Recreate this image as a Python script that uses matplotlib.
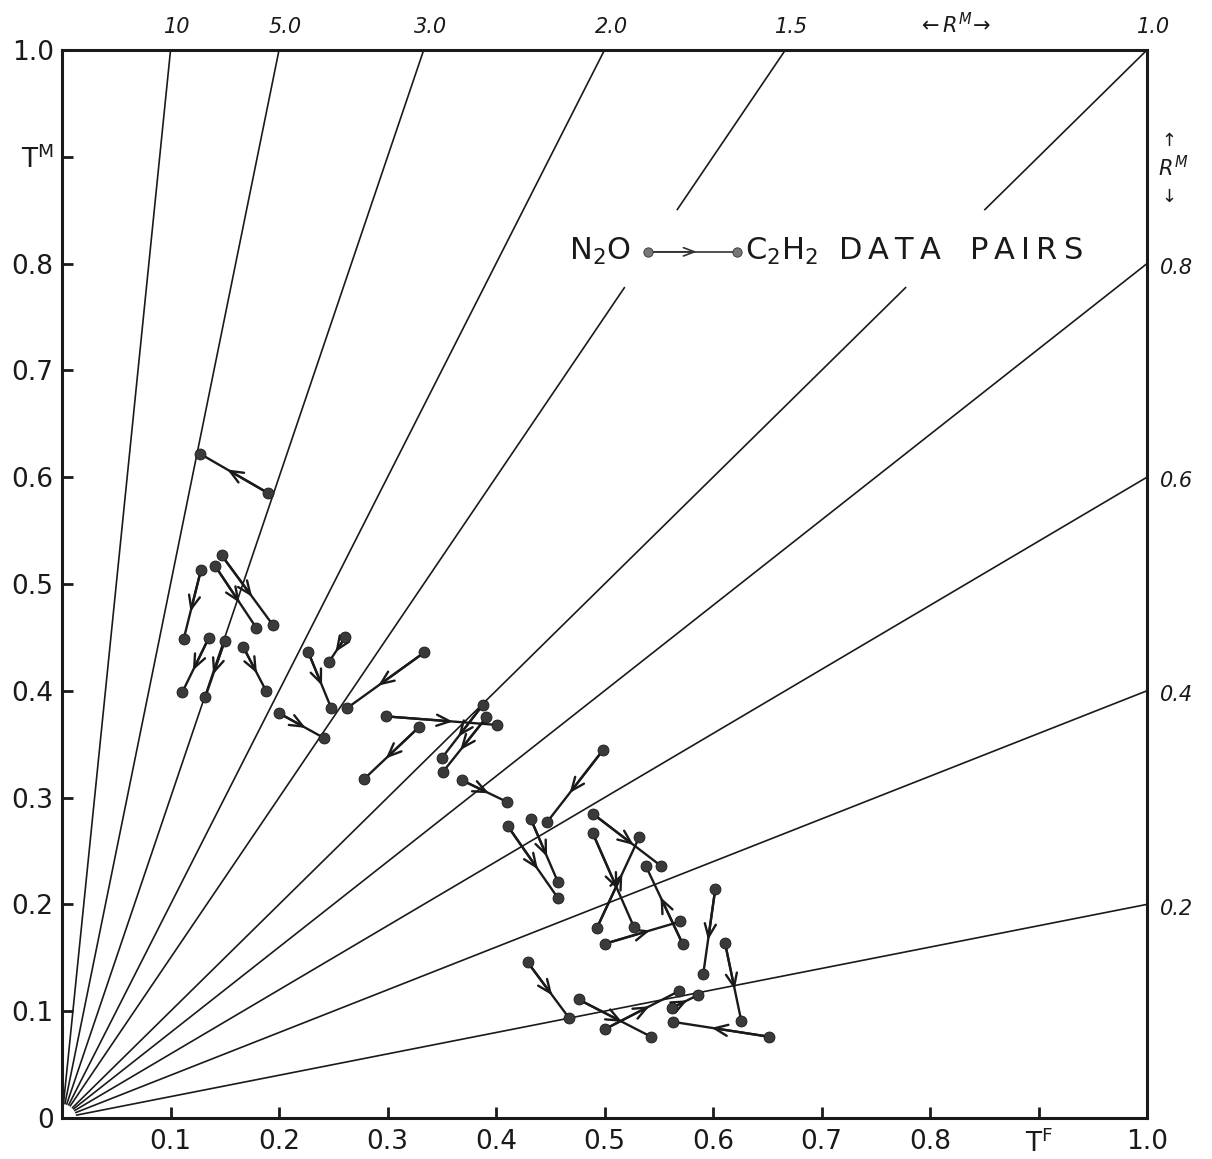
import numpy as np
import matplotlib
matplotlib.use("Agg")
import matplotlib.pyplot as plt

# Constant-ratio rays R^M = T^M / T^F
ratios_top = [10.0, 5.0, 3.0, 2.0, 1.5, 1.0]
top_labels = ["10", "5.0", "3.0", "2.0", "1.5", "1.0"]
ratios_side = [0.8, 0.6, 0.4, 0.2]
side_labels = ["0.8", "0.6", "0.4", "0.2"]

# Axis tick labels
x_ticks = [0.1, 0.2, 0.3, 0.4, 0.5, 0.6, 0.7, 0.8, 0.9, 1.0]
x_tick_labels = ["0.1", "0.2", "0.3", "0.4", "0.5", "0.6", "0.7", "0.8",
                 r"T$^{\mathrm{F}}$", "1.0"]
y_ticks = [0.0, 0.1, 0.2, 0.3, 0.4, 0.5, 0.6, 0.7, 0.8, 0.9, 1.0]
y_tick_labels = ["0", "0.1", "0.2", "0.3", "0.4", "0.5", "0.6", "0.7", "0.8",
                 r"T$^{\mathrm{M}}$", "1.0"]

# N2O measurement (start of each pair)
n2o_tf = [0.190, 0.147, 0.141, 0.128, 0.135, 0.150, 0.167, 0.227, 0.261, 0.334,
          0.200, 0.299, 0.329, 0.388, 0.391, 0.369, 0.499, 0.432, 0.411, 0.489,
          0.489, 0.493, 0.572, 0.500, 0.602, 0.611, 0.429, 0.476, 0.500, 0.562,
          0.652]
n2o_tm = [0.585, 0.527, 0.517, 0.513, 0.449, 0.447, 0.441, 0.436, 0.450, 0.436,
          0.379, 0.376, 0.366, 0.387, 0.375, 0.316, 0.345, 0.280, 0.273, 0.285,
          0.267, 0.178, 0.163, 0.163, 0.214, 0.164, 0.146, 0.111, 0.083, 0.103,
          0.076]
# C2H2 measurement (end of each pair)
c2h2_tf = [0.127, 0.194, 0.179, 0.112, 0.111, 0.132, 0.188, 0.248, 0.246, 0.263,
           0.241, 0.401, 0.278, 0.350, 0.351, 0.410, 0.447, 0.457, 0.457, 0.552,
           0.527, 0.532, 0.538, 0.570, 0.591, 0.626, 0.467, 0.543, 0.569, 0.586,
           0.563]
c2h2_tm = [0.622, 0.462, 0.459, 0.448, 0.399, 0.394, 0.400, 0.384, 0.427, 0.384,
           0.356, 0.368, 0.317, 0.337, 0.324, 0.296, 0.277, 0.221, 0.206, 0.236,
           0.179, 0.263, 0.236, 0.184, 0.135, 0.091, 0.094, 0.076, 0.119, 0.115,
           0.090]

# Rays interrupted behind the legend (gap in T^M)
ray_gaps = {1.5: (0.778, 0.850), 1.0: (0.778, 0.850)}

INK = "#1a1a1a"
DOT = "#3a3a3a"
TS = "\u2009"  # thin space for letter tracking in the legend

fig = plt.figure(figsize=(12.12, 11.59), dpi=100)
ax = fig.add_axes([0.0512, 0.0354, 0.8952, 0.9215])
ax.set_xlim(0, 1)
ax.set_ylim(0, 1)

for s in ax.spines.values():
    s.set_linewidth(2.2)
    s.set_color(INK)

ax.set_xticks(x_ticks)
ax.set_xticklabels(x_tick_labels)
ax.set_yticks(y_ticks)
ax.set_yticklabels(y_tick_labels)
ax.tick_params(direction="in", length=8, width=2.0, color=INK,
               labelsize=19, labelcolor=INK, pad=8)
ax.tick_params(axis="y", pad=6)

# rays from the origin
r0 = 0.013
for R in ratios_top + ratios_side:
    if R >= 1:
        x_end, y_end = 1.0 / R, 1.0
    else:
        x_end, y_end = 1.0, R
    t0 = r0 / np.hypot(x_end, y_end)
    if R in ray_gaps:
        g0, g1 = ray_gaps[R]
        segs = [(t0, g0 / y_end), (g1 / y_end, 1.0)]
    else:
        segs = [(t0, 1.0)]
    for a, b in segs:
        ax.plot([a * x_end, b * x_end], [a * y_end, b * y_end],
                color=INK, lw=1.2, solid_capstyle="butt", zorder=2)

# ray labels
for R, lab in zip(ratios_top, top_labels):
    ax.text(1.0 / R + 0.006, 1.012, lab, ha="center", va="bottom",
            fontsize=15, style="italic", color=INK, clip_on=False)
for R, lab in zip(ratios_side, side_labels):
    ax.text(1.012, R - 0.004, lab, ha="left", va="center",
            fontsize=15, style="italic", color=INK, clip_on=False)

ax.text(0.822, 1.012, r"$\leftarrow R^{M}\!\rightarrow$", ha="center", va="bottom",
        fontsize=15, color=INK, clip_on=False)
ax.text(1.013, 0.915, "↑", ha="left", va="center", fontsize=13, color=INK, clip_on=False)
ax.text(1.010, 0.890, r"$R^{M}$", ha="left", va="center", fontsize=15, color=INK, clip_on=False)
ax.text(1.013, 0.862, "↓", ha="left", va="center", fontsize=13, color=INK, clip_on=False)

# data pairs with mid-line arrowheads
for x0, y0, x1, y1 in zip(n2o_tf, n2o_tm, c2h2_tf, c2h2_tm):
    ax.plot([x0, x1], [y0, y1], color=INK, lw=1.7, zorder=3)
    tx, ty = x0 + 0.6 * (x1 - x0), y0 + 0.6 * (y1 - y0)
    ax.annotate("", xy=(tx, ty), xytext=(x0, y0),
                arrowprops=dict(arrowstyle="->,head_length=0.95,head_width=0.4",
                                color=INK, lw=1.7, shrinkA=0, shrinkB=0),
                zorder=3)
ax.scatter(n2o_tf + c2h2_tf, n2o_tm + c2h2_tm, s=62, color=DOT,
           edgecolors=INK, linewidths=0.6, zorder=4)

# legend
lx0, lx1, ly = 0.540, 0.622, 0.811
ax.plot([lx0, lx1], [ly, ly], color="#333333", lw=1.2, zorder=3)
ax.annotate("", xy=(lx0 + 0.55 * (lx1 - lx0), ly), xytext=(lx0, ly),
            arrowprops=dict(arrowstyle="->,head_length=0.8,head_width=0.3",
                            color="#333333", lw=1.2, shrinkA=0, shrinkB=0))
ax.scatter([lx0, lx1], [ly, ly], s=45, color="#777777", edgecolors="#333333",
           linewidths=0.6, zorder=4)
ax.text(lx0 - 0.016, ly, r"N$_2$O", ha="right", va="center", fontsize=22, color=INK)
legend_words = "C$_2$H$_2$  " + TS.join("DATA") + "   " + TS.join("PAIRS")
ax.text(lx1 + 0.007, ly, legend_words, ha="left", va="center",
        fontsize=22, color=INK)

fig.savefig("out.png", dpi=100, facecolor="white")
